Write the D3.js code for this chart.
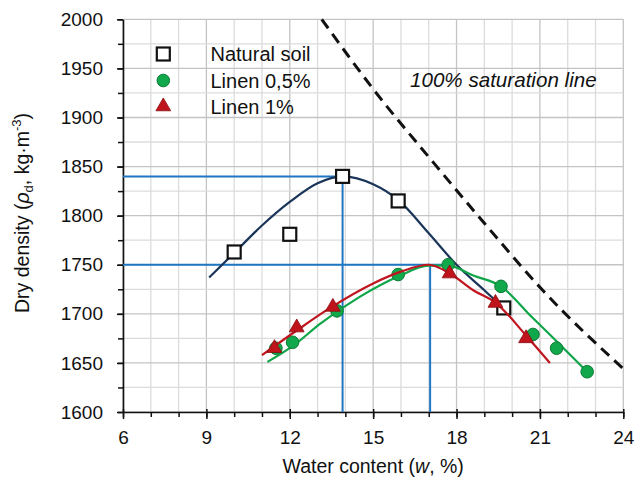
<!DOCTYPE html>
<html><head><meta charset="utf-8">
<script src="https://cdn.jsdelivr.net/npm/d3@7"></script>
<style>body{margin:0;background:#fff}svg{display:block}text{font-family:"Liberation Sans",Arial,sans-serif}</style>
</head><body>
<svg id="c" width="637" height="484"></svg>
<script>
// ---- data ----
const xTicks = [6, 9, 12, 15, 18, 21, 24];
const yTicks = [1600, 1650, 1700, 1750, 1800, 1850, 1900, 1950, 2000];
const seriesNames = ["Natural soil", "Linen 0,5%", "Linen 1%"];

const natW   = [10, 12, 13.9, 15.9, 19.7];
const natRho = [1763, 1781, 1840, 1815, 1706];
const l05W   = [11.5, 12.1, 13.7, 15.9, 17.7, 19.6, 20.75, 21.6, 22.7];
const l05Rho = [1665, 1671, 1703, 1740, 1750, 1728, 1679, 1665, 1641];
const l1W    = [11.45, 12.25, 13.55, 17.75, 19.4, 20.5];
const l1Rho  = [1665, 1686, 1707, 1741, 1711, 1675];

// fitted curves (as drawn in the picture)
const natCurveW   = [9.1, 10, 11, 12, 13, 13.9, 15, 15.9, 17, 18, 19, 19.8];
const natCurveRho = [1737, 1762, 1790, 1814, 1833, 1840, 1832, 1816, 1782, 1750, 1724, 1703];
const l05CurveW   = [11.2, 12.1, 13.1, 14.5, 15.9, 17.0, 17.7, 18.6, 19.6, 20.7, 21.6, 22.7];
const l05CurveRho = [1651, 1667, 1690, 1717, 1738, 1749, 1749, 1739, 1728, 1697, 1672, 1641];
const l1CurveW    = [11.0, 12.25, 13.45, 15.0, 16.0, 17.0, 17.76, 18.6, 19.42, 20.5, 21.36];
const l1CurveRho  = [1658, 1683, 1706, 1731, 1743, 1750, 1741, 1724, 1711, 1678, 1650];

const satW   = [13.15, 15, 17.2, 19.1, 21.1, 24];
const satRho = [2000, 1929, 1853, 1789, 1724, 1644];

// optimum reference lines
const optW    = [13.9, 17.05];
const optRho  = [1840, 1750];
const optHEnd = [13.9, 17.6];

// ---- drawing ----
const svg = d3.select("#c");
const x = d3.scaleLinear().domain([6, 24]).range([123, 623.3]);
const y = d3.scaleLinear().domain([1600, 2000]).range([412, 19.3]);

const grid = svg.append("g");
d3.range(6, 25, 1).forEach(v => {
  grid.append("line").attr("x1", x(v)).attr("x2", x(v)).attr("y1", y(1600)).attr("y2", y(2000))
    .attr("stroke", v % 3 === 0 ? "#c4c4c4" : "#dcdcdc").attr("stroke-width", 1.3);
});
d3.range(1600, 2001, 25).forEach(v => {
  grid.append("line").attr("x1", x(6)).attr("x2", x(24)).attr("y1", y(v)).attr("y2", y(v))
    .attr("stroke", v % 50 === 0 ? "#c4c4c4" : "#dcdcdc").attr("stroke-width", 1.3);
});

// axes
const xMinor = svg.append("g").attr("transform", `translate(0,${y(1600)})`)
  .call(d3.axisBottom(x).tickValues(d3.range(6, 25, 1)).tickSize(5).tickFormat(""));
xMinor.select(".domain").remove();
const xAx = svg.append("g").attr("transform", `translate(0,${y(1600)})`)
  .call(d3.axisBottom(x).tickValues(xTicks).tickSize(7).tickPadding(8).tickSizeOuter(0).tickFormat(d3.format("d")));
xAx.selectAll(".tick line").attr("y1", -3);
const yMinor = svg.append("g").attr("transform", `translate(${x(6)},0)`)
  .call(d3.axisLeft(y).tickValues(d3.range(1600, 2001, 25)).tickSize(5).tickFormat(""));
yMinor.select(".domain").remove();
const yAx = svg.append("g").attr("transform", `translate(${x(6)},0)`)
  .call(d3.axisLeft(y).tickValues(yTicks).tickSize(6).tickPadding(14).tickSizeOuter(0).tickFormat(d3.format("d")));
svg.selectAll(".domain").attr("stroke", "#111").attr("stroke-width", 1.6);
svg.selectAll(".tick line").attr("stroke", "#111").attr("stroke-width", 1.5);
svg.selectAll(".tick text").attr("font-size", 19).attr("fill", "#111")
  .style("font-family", '"Liberation Sans",Arial,sans-serif');
xAx.selectAll(".tick text").attr("dy", "0.9em");

// reference lines
const blue = "#1f77c4";
optW.forEach((w, i) => {
  svg.append("line").attr("x1", x(6)).attr("x2", x(optHEnd[i])).attr("y1", y(optRho[i])).attr("y2", y(optRho[i]))
    .attr("stroke", blue).attr("stroke-width", 2);
  svg.append("line").attr("x1", x(w)).attr("x2", x(w)).attr("y1", y(optRho[i])).attr("y2", y(1600))
    .attr("stroke", blue).attr("stroke-width", 2);
});

const line = d3.line().x(d => x(d[0])).y(d => y(d[1])).curve(d3.curveMonotoneX);
const zip = (a, b) => a.map((v, i) => [v, b[i]]);

// natural soil
svg.append("path").attr("d", line(zip(natCurveW, natCurveRho))).attr("fill", "none")
  .attr("stroke", "#1a3559").attr("stroke-width", 2.2);
svg.append("g").selectAll("rect").data(zip(natW, natRho)).join("rect")
  .attr("x", d => x(d[0]) - 6.5).attr("y", d => y(d[1]) - 6.5).attr("width", 13).attr("height", 13)
  .attr("fill", "#fff").attr("stroke", "#111").attr("stroke-width", 2.2);

// linen 0.5%
svg.append("path").attr("d", line(zip(l05CurveW, l05CurveRho))).attr("fill", "none")
  .attr("stroke", "#10a548").attr("stroke-width", 2.2);
svg.append("g").selectAll("circle").data(zip(l05W, l05Rho)).join("circle")
  .attr("cx", d => x(d[0])).attr("cy", d => y(d[1])).attr("r", 6.3)
  .attr("fill", "#10a84a").attr("stroke", "#0b7a35").attr("stroke-width", 1);

// linen 1%
const tri = d3.symbol().type(d3.symbolTriangle).size(95);
svg.append("path").attr("d", line(zip(l1CurveW, l1CurveRho))).attr("fill", "none")
  .attr("stroke", "#c0151f").attr("stroke-width", 2.2);
svg.append("g").selectAll("path").data(zip(l1W, l1Rho)).join("path")
  .attr("d", tri).attr("transform", d => `translate(${x(d[0])},${y(d[1])})`)
  .attr("fill", "#c0141c").attr("stroke", "#8a0c10").attr("stroke-width", 0.8);

// saturation line
svg.append("path").attr("d", line(zip(satW, satRho))).attr("fill", "none")
  .attr("stroke", "#111").attr("stroke-width", 3).attr("stroke-dasharray", "11,7");
svg.append("text").attr("x", 410).attr("y", 87).attr("font-size", 20.6).attr("font-style", "italic")
  .attr("fill", "#111").text("100% saturation line");

// legend
const lg = svg.append("g");
const lx = 163.3, ly = [54, 80.5, 106.5];
lg.append("rect").attr("x", lx - 6.5).attr("y", ly[0] - 6.5).attr("width", 13).attr("height", 13)
  .attr("fill", "#fff").attr("stroke", "#111").attr("stroke-width", 2.2);
lg.append("circle").attr("cx", lx).attr("cy", ly[1]).attr("r", 6.3)
  .attr("fill", "#10a84a").attr("stroke", "#0b7a35").attr("stroke-width", 1);
lg.append("path").attr("d", tri).attr("transform", `translate(${lx},${ly[2]})`)
  .attr("fill", "#c0141c").attr("stroke", "#8a0c10").attr("stroke-width", 0.8);
seriesNames.forEach((n, i) => {
  lg.append("text").attr("x", 210.5).attr("y", ly[i] + 7).attr("font-size", 20).attr("fill", "#111").text(n);
});

// axis titles
svg.append("text").attr("x", x(15)).attr("y", 473).attr("text-anchor", "middle").attr("font-size", 19.5)
  .attr("fill", "#111").html('Water content (<tspan font-style="italic">w</tspan>, %)');
svg.append("text").attr("transform", "translate(29,213) rotate(-90)").attr("text-anchor", "middle")
  .attr("font-size", 19.5).attr("fill", "#111")
  .html('Dry density (<tspan font-style="italic">ρ</tspan><tspan font-size="13" dy="4">d</tspan><tspan dy="-4">, kg·m</tspan><tspan font-size="13" dy="-8">-3</tspan><tspan dy="8">)</tspan>');
</script>
</body></html>
